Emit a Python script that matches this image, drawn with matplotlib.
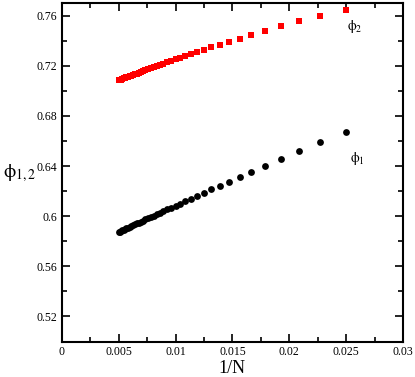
import numpy as np
from matplotlib import pyplot as plt
from matplotlib.ticker import MultipleLocator, FuncFormatter

plt.rcParams['font.family'] = ['Liberation Serif', 'DejaVu Serif']
plt.rcParams['mathtext.fontset'] = 'stix'
plt.rcParams['mathtext.default'] = 'rm'

# system sizes N, plotted as 1/N
N = [40, 44, 48, 52, 56, 60, 64, 68, 72, 76, 80, 84, 88, 92, 96, 100,
     104, 108, 112, 116, 120, 124, 128, 132, 136, 140, 144, 148, 152, 156,
     160, 164, 168, 172, 176, 180, 184, 188, 192, 196, 200]

phi2 = [0.7648, 0.7597, 0.7553, 0.7513, 0.7477, 0.7446, 0.7417, 0.7391,
        0.7368, 0.7346, 0.7327, 0.7309, 0.7292, 0.7277, 0.7263, 0.7250,
        0.7238, 0.7226, 0.7215, 0.7205, 0.7196, 0.7187, 0.7179, 0.7171,
        0.7164, 0.7157, 0.7150, 0.7144, 0.7137, 0.7132, 0.7126, 0.7121,
        0.7116, 0.7111, 0.7107, 0.7102, 0.7098, 0.7094, 0.7090, 0.7087,
        0.7083]

phi1 = [0.6675, 0.6595, 0.6522, 0.6458, 0.6403, 0.6355, 0.6313, 0.6276,
        0.6243, 0.6213, 0.6186, 0.6162, 0.6140, 0.6120, 0.6101, 0.6084,
        0.6068, 0.6054, 0.6040, 0.6027, 0.6015, 0.6004, 0.5993, 0.5983,
        0.5974, 0.5965, 0.5957, 0.5949, 0.5942, 0.5935, 0.5928, 0.5921,
        0.5915, 0.5909, 0.5903, 0.5897, 0.5891, 0.5886, 0.5881, 0.5876,
        0.5871]

x = 1.0 / np.array(N)

fig = plt.figure(figsize=(4.15, 3.77), dpi=100)
ax = fig.add_axes([0.149, 0.094, 0.822, 0.898])

ax.plot(x, phi2, 's', color='red', markersize=4.3, markeredgewidth=0)
ax.plot(x, phi1, 'o', color='black', markersize=4.9, markeredgewidth=0)

ax.set_xlim(0, 0.03)
ax.set_ylim(0.5, 0.77)
ax.xaxis.set_major_locator(MultipleLocator(0.005))
ax.xaxis.set_minor_locator(MultipleLocator(0.0025))
ax.yaxis.set_minor_locator(MultipleLocator(0.02))
ax.set_yticks([0.52, 0.56, 0.6, 0.64, 0.68, 0.72, 0.76])

fmt = FuncFormatter(lambda v, p: ('%.4f' % v).rstrip('0').rstrip('.'))
ax.xaxis.set_major_formatter(fmt)
ax.yaxis.set_major_formatter(fmt)

ax.tick_params(which='both', direction='in', top=True, right=True,
               labelsize=8.5, width=1.2)
ax.tick_params(which='major', length=6)
ax.tick_params(which='minor', length=3.5)
for s in ax.spines.values():
    s.set_linewidth(1.5)

ax.set_xlabel('1/N', fontsize=13, labelpad=1)
ax.set_ylabel(r'$\phi_{1,2}$', fontsize=14, rotation=0)
ax.yaxis.set_label_coords(-0.125, 0.465)

ax.text(0.02505, 0.7485, r'$\phi_2$', fontsize=10)
ax.text(0.0253, 0.6435, r'$\phi_1$', fontsize=10)

fig.savefig('out.png', dpi=100)
